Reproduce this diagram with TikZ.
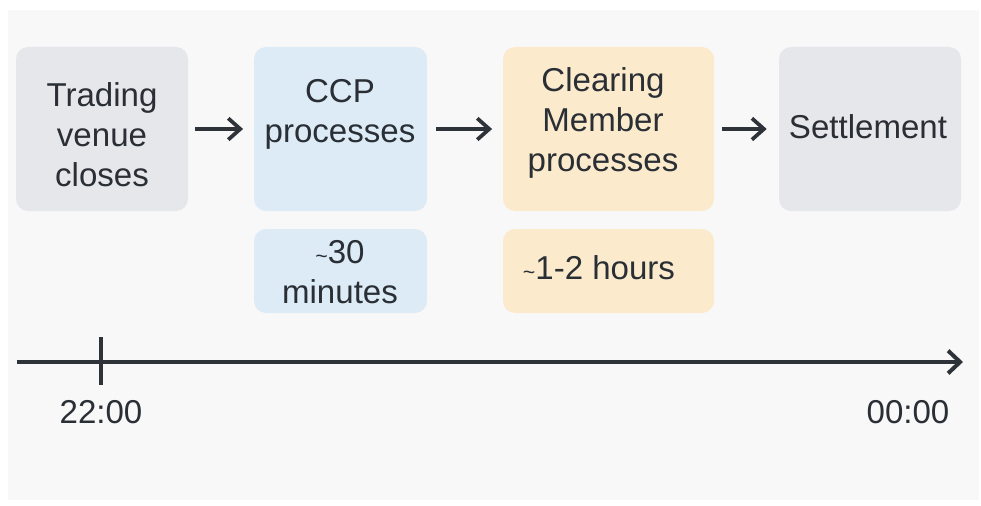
\documentclass[tikz,border=0pt]{standalone}
\usepackage{fontspec}
\setmainfont{Liberation Sans}
\usetikzlibrary{arrows.meta}
\definecolor{txt}{HTML}{2A2E35}
\definecolor{panel}{HTML}{F8F8F9}
\definecolor{greybox}{HTML}{E5E7EB}
\definecolor{bluebox}{HTML}{DCEBF6}
\definecolor{sandbox}{HTML}{FBEBCC}
\definecolor{linec}{HTML}{2E3339}
\tikzset{
  box/.style={rounded corners=9pt, inner sep=0pt, draw=none},
  lbl/.style={text=txt, align=center, font=\fontsize{24.8}{30}\selectfont, inner sep=0pt},
  flow/.style={draw=linec, line width=2.8pt, -{Straight Barb[length=9pt,width=16pt,line width=2.8pt]}},
  axis/.style={draw=linec, line width=3pt, -{Straight Barb[length=9pt,width=17pt,line width=3pt]}},
}
\begin{document}
\begin{tikzpicture}[x=0.75pt,y=-0.75pt]
\useasboundingbox (0,0) rectangle (981,506);
\fill[white] (0,0) rectangle (981,506);
\fill[panel] (8,10) rectangle (979,500);
% boxes
\node[box, fill=greybox, minimum width=129pt, minimum height=123pt] (b1) at (102,129) {};
\node[box, fill=bluebox, minimum width=129.75pt, minimum height=123pt] (b2) at (340.5,129) {};
\node[box, fill=bluebox, minimum width=129.75pt, minimum height=63pt] (b3) at (340.5,271) {};
\node[box, fill=sandbox, minimum width=158.25pt, minimum height=123pt] (b4) at (608.5,129) {};
\node[box, fill=sandbox, minimum width=158.25pt, minimum height=63pt] (b5) at (608.5,271) {};
\node[box, fill=greybox, minimum width=136.5pt, minimum height=123pt] (b6) at (870,129) {};
% texts
\node[lbl] (t1) at (102,135) {Trading\\venue\\closes};
\node[lbl] (t2) at (340,114) {CCP\\processes};
\node[lbl] (t3) at (340,272) {{\fontsize{16}{16}\selectfont\textasciitilde}30\\minutes};
\node[lbl] (t4) at (603,123) {Clearing\\Member\\processes};
\node[lbl] (t5) at (599,268) {{\fontsize{16}{16}\selectfont\textasciitilde}1-2 hours};
\node[lbl] (t6) at (868,127) {Settlement};
% flow arrows
\draw[flow] ([xshift=5.25pt]b1.east) -- ([xshift=-8pt]b2.west);
\draw[flow] ([xshift=6.75pt]b2.east) -- ([xshift=-8pt]b4.west);
\draw[flow] ([xshift=6pt]b4.east) -- ([xshift=-9pt]b6.west);
% timeline
\coordinate (a0) at (17,362);
\coordinate (a1) at (963,362);
\coordinate (k0) at (101,337);
\coordinate (k1) at (101,385);
\draw[axis] (a0) -- (a1);
\draw[linec, line width=2.4pt] (k0) -- (k1);
\node[lbl] (l1) at (101,412) {22:00};
\node[lbl] (l2) at (908,412) {00:00};
\end{tikzpicture}
\end{document}
